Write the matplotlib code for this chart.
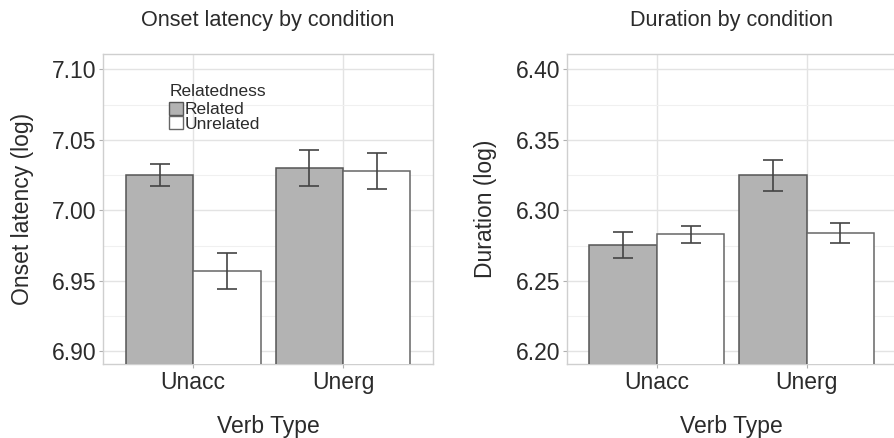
import matplotlib
matplotlib.use("Agg")
import matplotlib.pyplot as plt
from matplotlib.patches import Patch
from matplotlib.ticker import MultipleLocator, FormatStrFormatter
import numpy as np

# values (log scale means, +/- SE)
verb_types = ["Unacc", "Unerg"]
onset_related = [7.025, 7.030]
onset_related_se = [0.008, 0.013]
onset_unrelated = [6.957, 7.028]
onset_unrelated_se = [0.0128, 0.0126]
dur_related = [6.2757, 6.3248]
dur_related_se = [0.0093, 0.0107]
dur_unrelated = [6.2832, 6.2837]
dur_unrelated_se = [0.0060, 0.0072]

plt.rcParams['font.family'] = ['Liberation Sans', 'DejaVu Sans']

GRAY = "#b3b3b3"
EDGE = "#555555"
TXT = "#2b2b2b"

fig = plt.figure(figsize=(8.94, 4.38), dpi=100)
ax1 = fig.add_axes([0.1156, 0.169, 0.3687, 0.7078])
ax2 = fig.add_axes([0.6342, 0.169, 0.3687, 0.7078])

def panel(ax, rel, rel_se, unrel, unrel_se, ylim, title, ylabel):
    x = np.arange(1, len(verb_types) + 1)
    w = 0.45
    ax.bar(x - w/2, rel, w, color=GRAY, edgecolor=EDGE, linewidth=1.1, zorder=3)
    ax.bar(x + w/2, unrel, w, color="white", edgecolor="#666666", linewidth=1.1, zorder=3)
    ax.errorbar(x - w/2, rel, yerr=rel_se, fmt="none", ecolor="#444444",
                elinewidth=1.2, capsize=7, capthick=1.2, zorder=4)
    ax.errorbar(x + w/2, unrel, yerr=unrel_se, fmt="none", ecolor="#444444",
                elinewidth=1.2, capsize=7, capthick=1.2, zorder=4)
    ax.set_xlim(0.4, 2.6)
    ax.set_ylim(*ylim)
    ax.set_xticks(x)
    ax.set_xticklabels(verb_types)
    ax.yaxis.set_major_locator(MultipleLocator(0.05))
    ax.yaxis.set_minor_locator(MultipleLocator(0.025))
    ax.yaxis.set_major_formatter(FormatStrFormatter("%.2f"))
    ax.grid(which="major", color="#e3e3e3", linewidth=1.0, zorder=0)
    ax.grid(which="minor", axis="y", color="#f0f0f0", linewidth=0.8, zorder=0)
    ax.set_axisbelow(True)
    for s in ax.spines.values():
        s.set_color("#cfcfcf")
        s.set_linewidth(1.0)
    ax.tick_params(which="major", length=3, width=0.8, color="#b0b0b0",
                   labelsize=16.5, labelcolor=TXT, pad=2)
    ax.tick_params(which="minor", length=0)
    ax.set_title(title, fontsize=15.6, color=TXT, pad=20)
    ax.set_xlabel("Verb Type", fontsize=16.5, color=TXT, labelpad=15)
    ax.set_ylabel(ylabel, fontsize=16.5, color=TXT, labelpad=13)

panel(ax1, onset_related, onset_related_se, onset_unrelated, onset_unrelated_se,
      (6.891, 7.111), "Onset latency by condition", "Onset latency (log)")
panel(ax2, dur_related, dur_related_se, dur_unrelated, dur_unrelated_se,
      (6.191, 6.411), "Duration by condition", "Duration (log)")

handles = [Patch(facecolor=GRAY, edgecolor=EDGE, linewidth=1.0, label="Related"),
           Patch(facecolor="white", edgecolor="#666666", linewidth=1.0, label="Unrelated")]
leg = ax1.legend(handles=handles, title="Relatedness", loc="upper left",
                 bbox_to_anchor=(0.19, 0.915), frameon=False, fontsize=12.5,
                 title_fontsize=12.5, handlelength=0.8, handleheight=0.8,
                 handletextpad=0.1, labelspacing=-0.08, borderpad=0.2,
                 borderaxespad=0.0)
leg._legend_box.align = "left"
leg._legend_box.sep = 2
for t in leg.get_texts():
    t.set_color(TXT)
leg.get_title().set_color(TXT)

fig.savefig("out.png", dpi=100)
